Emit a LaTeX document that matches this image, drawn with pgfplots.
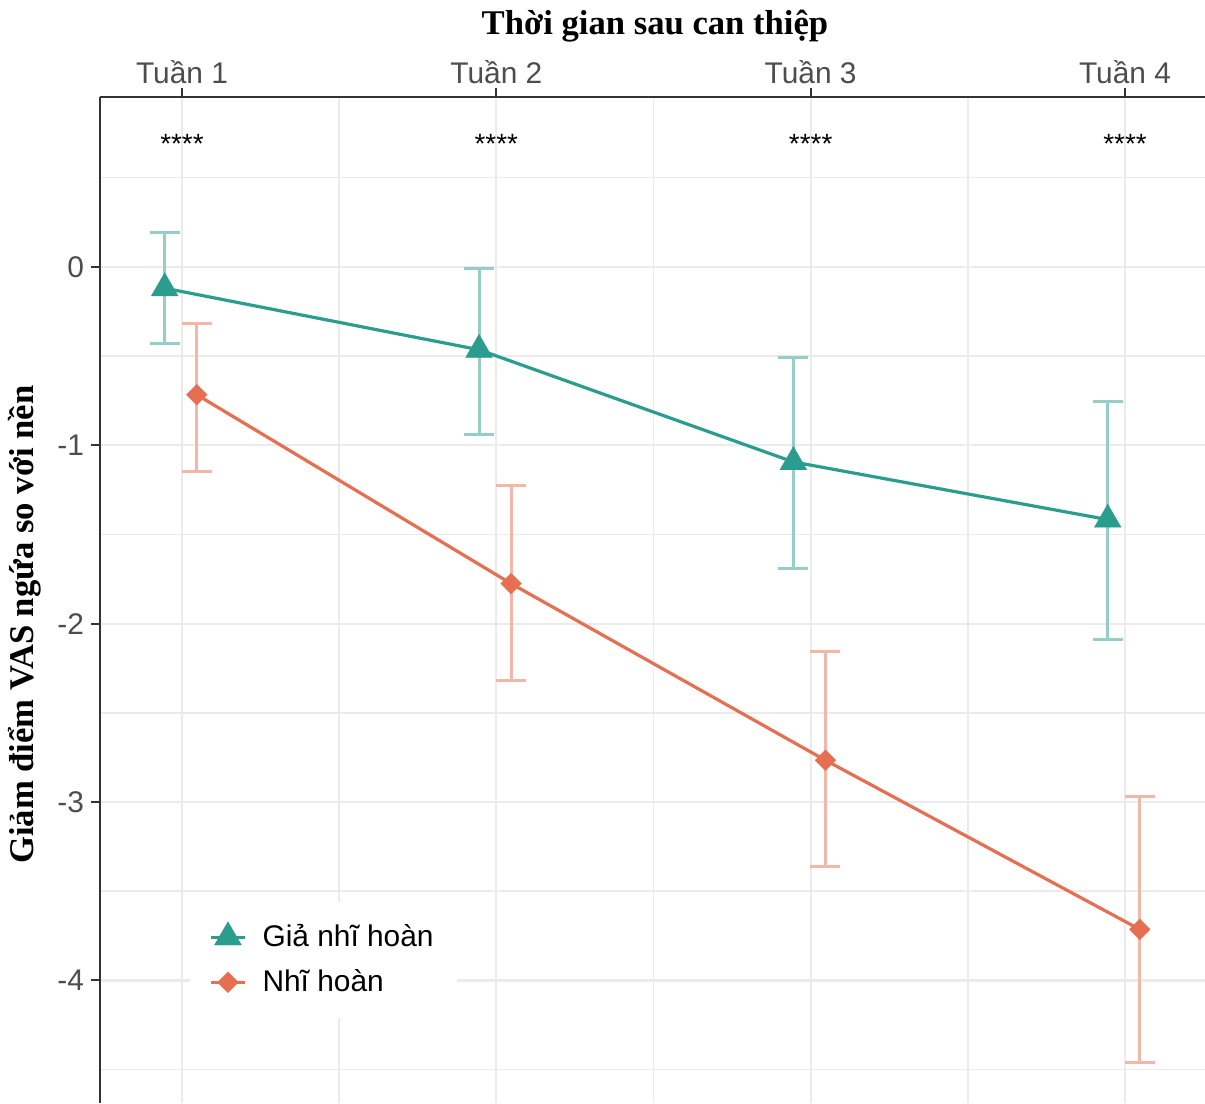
\documentclass[border=0pt]{standalone}
\usepackage{fontspec}
\setmainfont{Liberation Sans}
\newfontfamily\titlefont{Liberation Serif}
\usepackage{pgfplots}
\usepackage{pgfplotstable}
\pgfplotsset{compat=1.18}

\definecolor{sham}{HTML}{2A9D8F}
\definecolor{real}{HTML}{E76F51}
\definecolor{gridc}{HTML}{EBEBEB}
\definecolor{axc}{HTML}{333333}
\definecolor{tickc}{HTML}{4D4D4D}

% mean change in itch VAS with asymmetric 95% CI (ep = up, em = down);
% x already dodged around weeks 1..4
\pgfplotstableread{
x      y       ep     em
0.945  -0.120  0.314  0.310
1.945  -0.465  0.458  0.475
2.945  -1.094  0.583  0.598
3.945  -1.417  0.663  0.673
}\shamdata

\pgfplotstableread{
x      y       ep     em
1.047  -0.717  0.400  0.433
2.047  -1.776  0.551  0.544
3.047  -2.766  0.611  0.595
4.047  -3.714  0.747  0.747
}\realdata

\begin{document}
\begin{tikzpicture}
\begin{axis}[
  x=157.25bp, y=89.25bp,
  xmin=0.739, xmax=4.2545, ymin=-4.689, ymax=0.952,
  axis x line=top, axis y line=left,
  axis line style={-, axc, line width=1bp},
  xtick={1,2,3,4}, xticklabels={Tuần 1,Tuần 2,Tuần 3,Tuần 4},
  minor xtick={1.5,2.5,3.5},
  ytick={0,-1,-2,-3,-4}, yticklabels={0,-1,-2,-3,-4},
  minor ytick={0.5,-0.5,-1.5,-2.5,-3.5,-4.5},
  grid=both,
  major grid style={gridc, line width=1.1bp},
  minor grid style={gridc, line width=0.8bp},
  tick align=outside,
  major tick length=4.5bp, minor tick length=0pt,
  tick style={axc, line width=1bp},
  ticklabel style={font=\fontsize{15}{17}\selectfont, text=tickc},
  xticklabel style={yshift=-1.5bp},
  clip mode=individual,
  legend style={at={(axis cs:1.0254,-3.556)}, anchor=north west,
    draw=none, fill=white, inner xsep=9.5bp, inner ysep=9.5bp,
    row sep=6bp, font=\fontsize{15}{18}\selectfont,
    /tikz/every odd column/.append style={column sep=6bp}},
  legend cell align=left,
]
% confidence intervals
\addplot[forget plot, only marks, mark=none,
  error bars/.cd, y dir=both, y explicit,
  error bar style={line width=1.5bp, sham!50!white},
  error mark options={rotate=90, mark size=7.5bp, line width=1.5bp, sham!50!white}]
  table[x=x, y=y, y error plus=ep, y error minus=em]{\shamdata};
\addplot[forget plot, only marks, mark=none,
  error bars/.cd, y dir=both, y explicit,
  error bar style={line width=1.5bp, real!50!white},
  error mark options={rotate=90, mark size=7.5bp, line width=1.5bp, real!50!white}]
  table[x=x, y=y, y error plus=ep, y error minus=em]{\realdata};

% group means
\addplot[sham, line width=1.6bp, mark=triangle*, mark size=7.8bp,
  mark options={solid, fill=sham, draw=sham, line width=0.1bp}]
  table[x=x, y=y]{\shamdata};
\addlegendentry{Giả nhĩ hoàn}
\addplot[real, line width=1.6bp, mark=square*, mark size=3.7bp,
  mark options={solid, rotate=45, fill=real, draw=real, line width=0.1bp}]
  table[x=x, y=y]{\realdata};
\addlegendentry{Nhĩ hoàn}

% significance labels
\node[anchor=base, font=\fontsize{14}{16}\selectfont] at (axis cs:1,0.637) {****};
\node[anchor=base, font=\fontsize{14}{16}\selectfont] at (axis cs:2,0.637) {****};
\node[anchor=base, font=\fontsize{14}{16}\selectfont] at (axis cs:3,0.637) {****};
\node[anchor=base, font=\fontsize{14}{16}\selectfont] at (axis cs:4,0.637) {****};

% titles
\node[anchor=base, font=\titlefont\bfseries\fontsize{17.4}{20}\selectfont]
  at ([xshift=1.25bp, yshift=31bp]rel axis cs:0.5,1) {Thời gian sau can thiệp};
\node[anchor=base, rotate=90, font=\titlefont\bfseries\fontsize{17.4}{20}\selectfont]
  at ([xshift=-33.25bp]rel axis cs:0,0.4757) {Giảm điểm VAS ngứa so với nền};
\end{axis}
\pgfresetboundingbox
\path[use as bounding box] ([xshift=-50bp, yshift=48.5bp]current axis.north west)
  rectangle (current axis.south east);
\end{tikzpicture}
\end{document}
